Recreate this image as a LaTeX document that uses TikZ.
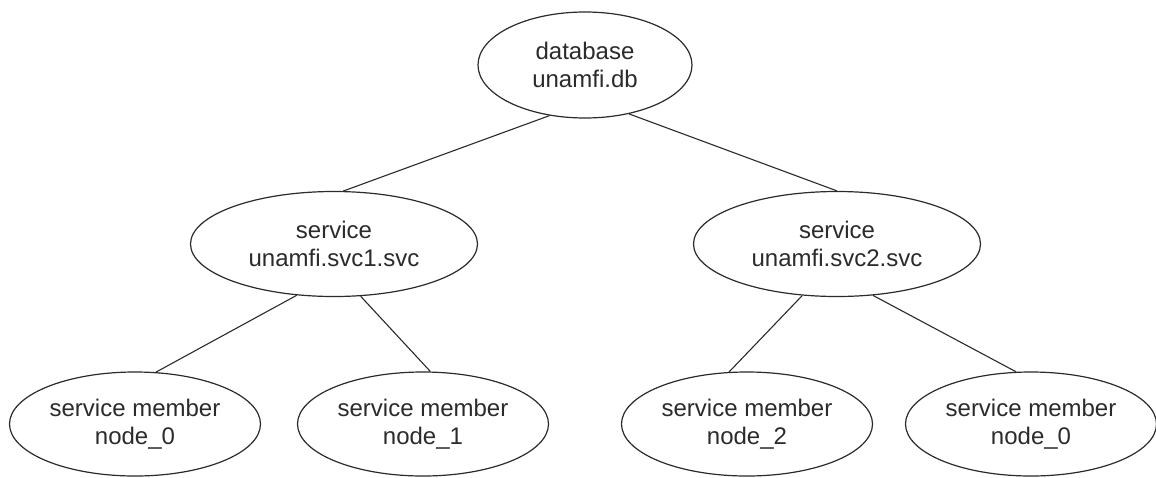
\documentclass[tikz,border=0pt]{standalone}
\usepackage{fontspec}
\setmainfont{Liberation Sans}
\usetikzlibrary{shapes.geometric}
\definecolor{ink}{HTML}{2B2B2B}
\tikzset{
  oval/.style={ellipse, draw=ink, line width=1.2pt, inner sep=0pt, align=center,
    font=\fontsize{24}{28}\selectfont, text=ink},
  dbnode/.style={oval, minimum width=214pt, minimum height=106pt},
  svcnode/.style={oval, minimum width=287pt, minimum height=105pt},
  membernode/.style={oval, minimum width=251pt, minimum height=104pt},
  link/.style={draw=ink, line width=1.1pt}
}
\begin{document}
\begin{tikzpicture}[x=1pt, y=-1pt]
  \useasboundingbox (0,0) rectangle (1156,477);
  \fill[white] (0,0) rectangle (1156,477);

  \node[dbnode] (db) at (585,65) {database\\unamfi.db};

  \node[svcnode] (svc1) at (334,244) {service\\unamfi.svc1.svc};
  \node[svcnode] (svc2) at (837,244) {service\\unamfi.svc2.svc};

  \node[membernode] (m0) at (135,424) {service member\\node\_0};
  \node[membernode] (m1) at (423,424) {service member\\node\_1};
  \node[membernode] (m2) at (747,424) {service member\\node\_2};
  \node[membernode] (m3) at (1031,424) {service member\\node\_0};

  \draw[link] (db.235) -- (svc1.80);
  \draw[link] (db.312) -- (svc2.north);
  \draw[link] (svc1.234) -- (m0.68);
  \draw[link] (svc1.297) -- (m1.82);
  \draw[link] (svc2.236) -- (m2.109);
  \draw[link] (svc2.305) -- (m3.106);
\end{tikzpicture}
\end{document}
